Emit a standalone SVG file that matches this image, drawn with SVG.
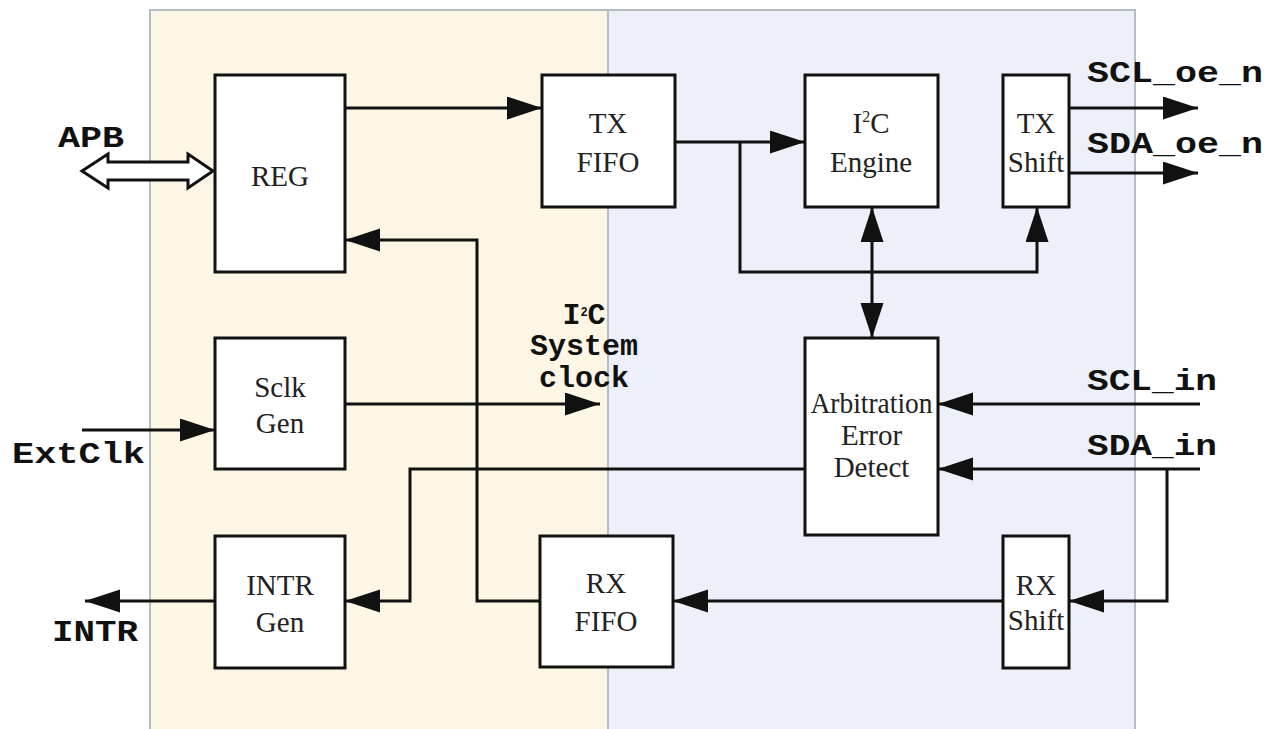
<svg xmlns="http://www.w3.org/2000/svg" width="1266" height="729" viewBox="0 0 1266 729">
<defs>
<style>
.box{fill:#fff;stroke:#111;stroke-width:3}
.lbl{font-family:"Liberation Serif",serif;font-size:29px;fill:#222;text-anchor:middle}
.sig{font-family:"Liberation Mono","DejaVu Sans Mono",monospace;font-weight:bold;font-size:30px;fill:#111}
.wire{fill:none;stroke:#111;stroke-width:3}
.arr{marker-end:url(#ah)}
</style>
<marker id="ah" markerUnits="userSpaceOnUse" markerWidth="36" markerHeight="24" refX="35" refY="11.5" orient="auto-start-reverse">
<path d="M0,0 L35,11.5 L0,23 z" fill="#111"/>
</marker>
</defs>
<rect width="1266" height="729" fill="#fff"/>
<g id="panels">
<rect x="150" y="10" width="458" height="730" fill="#fdf6e5" stroke="#b4bcc6" stroke-width="2"/>
<rect x="608" y="10" width="527" height="730" fill="#edf0f8" stroke="#b4bcc6" stroke-width="2"/>
</g>
<g id="connectors">
<path class="wire arr" d="M345,108 H542"/>
<path class="wire arr" d="M675,142 H805"/>
<path class="wire arr" d="M740,142 V272 H1037 V207"/>
<path class="wire arr" d="M1069,108 H1198"/>
<path class="wire arr" d="M1069,173 H1198"/>
<path class="wire arr" d="M872,207 V338" marker-start="url(#ah)"/>
<path class="wire arr" d="M1200,404 H938"/>
<path class="wire arr" d="M1200,469 H938"/>
<path class="wire arr" d="M1167,469 V601 H1069"/>
<path class="wire arr" d="M1003,601 H673"/>
<path class="wire arr" d="M540,601 H477 V240 H345"/>
<path class="wire arr" d="M805,469 H410 V601 H345"/>
<path class="wire arr" d="M215,601 H85"/>
<path class="wire arr" d="M82,430 H215"/>
<path class="wire arr" d="M345,404 H600"/>
<polygon id="apb-arrow" points="82,171 108,154 108,162 188,162 188,154 213,171 188,188 188,180 108,180 108,188" fill="#fff" stroke="#111" stroke-width="3" stroke-linejoin="miter"/>
</g>
<g id="reg"><rect class="box" x="215" y="75" width="130" height="197"/><text class="lbl" x="280" y="186">REG</text></g>
<g id="txfifo"><rect class="box" x="542" y="75" width="133" height="132"/><text class="lbl" x="608" y="133">TX</text><text class="lbl" x="608" y="172">FIFO</text></g>
<g id="engine"><rect class="box" x="805" y="75" width="133" height="132"/><text class="lbl" x="871" y="133">I<tspan font-size="16" dy="-11">2</tspan><tspan dy="11">C</tspan></text><text class="lbl" x="871" y="172">Engine</text></g>
<g id="txshift"><rect class="box" x="1003" y="75" width="66" height="132"/><text class="lbl" x="1036" y="133">TX</text><text class="lbl" x="1036" y="172">Shift</text></g>
<g id="sclk"><rect class="box" x="215" y="338" width="130" height="131"/><text class="lbl" x="280" y="397">Sclk</text><text class="lbl" x="280" y="433">Gen</text></g>
<g id="arb"><rect class="box" x="805" y="338" width="133" height="197"/><text class="lbl" x="871.5" y="413" font-size="24" textLength="122" lengthAdjust="spacingAndGlyphs">Arbitration</text><text class="lbl" x="871.5" y="445" font-size="24">Error</text><text class="lbl" x="871.5" y="477" font-size="24">Detect</text></g>
<g id="intr"><rect class="box" x="215" y="536" width="130" height="132"/><text class="lbl" x="280" y="595">INTR</text><text class="lbl" x="280" y="632">Gen</text></g>
<g id="rxfifo"><rect class="box" x="540" y="536" width="133" height="131"/><text class="lbl" x="606" y="593">RX</text><text class="lbl" x="606" y="631">FIFO</text></g>
<g id="rxshift"><rect class="box" x="1003" y="536" width="66" height="132"/><text class="lbl" x="1036" y="595">RX</text><text class="lbl" x="1036" y="630">Shift</text></g>
<g id="labels">
<text class="sig" x="58" y="147" textLength="66" lengthAdjust="spacingAndGlyphs">APB</text>
<text class="sig" x="1087" y="82" textLength="176" lengthAdjust="spacingAndGlyphs">SCL_oe_n</text>
<text class="sig" x="1087" y="153" textLength="176" lengthAdjust="spacingAndGlyphs">SDA_oe_n</text>
<text class="sig" x="1087" y="390" textLength="130" lengthAdjust="spacingAndGlyphs">SCL_in</text>
<text class="sig" x="1087" y="455" textLength="130" lengthAdjust="spacingAndGlyphs">SDA_in</text>
<text class="sig" x="12" y="463" textLength="133" lengthAdjust="spacingAndGlyphs">ExtClk</text>
<text class="sig" x="52" y="641" textLength="86" lengthAdjust="spacingAndGlyphs">INTR</text>
<text class="sig" font-size="21" text-anchor="middle"><tspan x="584" y="324">I<tspan font-size="12" dy="-8">2</tspan><tspan dy="8">C</tspan></tspan><tspan x="584" y="355">System</tspan><tspan x="584" y="387">clock</tspan></text>
</g>
</svg>
